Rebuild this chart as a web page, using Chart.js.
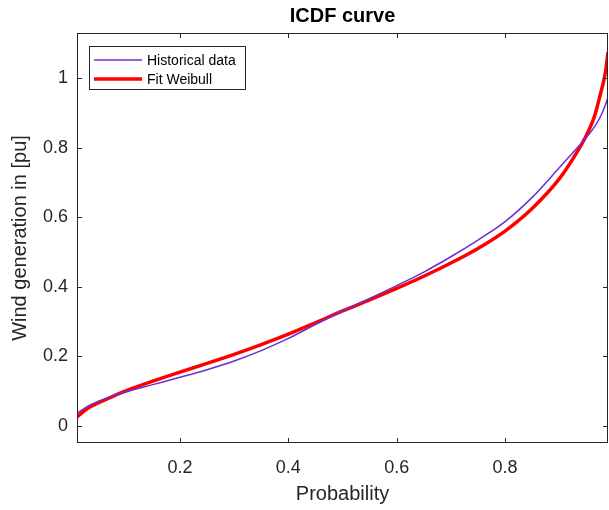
<!DOCTYPE html>
<html lang="en">
<head>
    <meta charset="UTF-8">
    <title>ICDF curve</title>
    <script src="https://cdn.jsdelivr.net/npm/chart.js"></script>
    <style>
        html, body { margin: 0; padding: 0; background: #ffffff; }
        .chart-container { width: 609px; height: 510px; position: relative; }
    </style>
</head>
<body>

<div class="chart-container">
    <canvas id="icdfChart"></canvas>
</div>

<script>
    // Probability levels
    const probability = [0.01, 0.03, 0.05, 0.07, 0.1, 0.15, 0.2, 0.25, 0.3, 0.35, 0.4, 0.45, 0.5, 0.55,
                         0.6, 0.65, 0.7, 0.75, 0.8, 0.85, 0.9, 0.93, 0.95, 0.965, 0.975, 0.985, 0.99];
    // Historical data (purple)
    const historical = [0.035, 0.056, 0.07, 0.082, 0.097, 0.118, 0.139, 0.161, 0.186, 0.216, 0.251, 0.291, 0.33, 0.366,
                        0.403, 0.442, 0.486, 0.534, 0.587, 0.657, 0.742, 0.794, 0.829, 0.86, 0.886, 0.922, 0.945];
    // Fit Weibull (red)
    const weibull = [0.025, 0.05, 0.066, 0.08, 0.1, 0.128, 0.154, 0.179, 0.205, 0.233, 0.263, 0.296, 0.33, 0.362,
                     0.395, 0.43, 0.468, 0.51, 0.56, 0.625, 0.71, 0.78, 0.835, 0.89, 0.948, 1.015, 1.075];

    const xTicks = [0.2, 0.4, 0.6, 0.8];
    const yTicks = [0, 0.2, 0.4, 0.6, 0.8, 1];

    const FONT = "'Liberation Sans', Arial, Helvetica, sans-serif";
    const AXIS_COLOR = '#262626';

    // Рамка, внутренние засечки, заголовок и легенда в стиле MATLAB
    const matlabStyle = {
        id: 'matlabStyle',
        afterDraw(chart) {
            const ctx = chart.ctx;
            const a = chart.chartArea;
            const xs = chart.scales.x;
            const ys = chart.scales.y;
            ctx.save();
            ctx.strokeStyle = AXIS_COLOR;
            ctx.lineWidth = 1;
            ctx.strokeRect(a.left + 0.5, a.top + 0.5, a.right - a.left - 1, a.bottom - a.top - 1);

            const tl = 5;
            ctx.beginPath();
            xTicks.forEach(v => {
                const px = Math.round(xs.getPixelForValue(v)) + 0.5;
                ctx.moveTo(px, a.bottom); ctx.lineTo(px, a.bottom - tl);
                ctx.moveTo(px, a.top); ctx.lineTo(px, a.top + tl);
            });
            yTicks.forEach(v => {
                const py = Math.round(ys.getPixelForValue(v)) + 0.5;
                ctx.moveTo(a.left, py); ctx.lineTo(a.left + tl, py);
                ctx.moveTo(a.right, py); ctx.lineTo(a.right - tl, py);
            });
            ctx.stroke();

            // заголовок
            ctx.fillStyle = '#000000';
            ctx.font = 'bold 20px ' + FONT;
            ctx.textAlign = 'center';
            ctx.textBaseline = 'middle';
            ctx.fillText('ICDF curve', (a.left + a.right) / 2, 16);

            // легенда
            const lx = a.left + 12, ly = a.top + 13, lw = 156, lh = 43;
            ctx.fillStyle = '#ffffff';
            ctx.fillRect(lx, ly, lw, lh);
            ctx.strokeStyle = '#262626';
            ctx.lineWidth = 1;
            ctx.strokeRect(lx + 0.5, ly + 0.5, lw, lh);
            chart.data.datasets.forEach((ds, i) => {
                const rowY = ly + 14 + i * 19;
                ctx.strokeStyle = ds.borderColor;
                ctx.lineWidth = ds.borderWidth;
                ctx.beginPath();
                ctx.moveTo(lx + 5, rowY);
                ctx.lineTo(lx + 53, rowY);
                ctx.stroke();
                ctx.fillStyle = '#000000';
                ctx.font = '14px ' + FONT;
                ctx.textAlign = 'left';
                ctx.textBaseline = 'middle';
                ctx.fillText(ds.label, lx + 58, rowY + 1);
            });
            ctx.restore();
        }
    };

    const config = {
        type: 'line',
        data: {
            datasets: [{
                label: 'Historical data',
                data: probability.map((p, i) => ({ x: p, y: historical[i] })),
                borderColor: '#6A2ED2',
                borderWidth: 1.5,
                pointRadius: 0,
                cubicInterpolationMode: 'monotone',
                fill: false
            }, {
                label: 'Fit Weibull',
                data: probability.map((p, i) => ({ x: p, y: weibull[i] })),
                borderColor: '#FF0000',
                borderWidth: 3.5,
                pointRadius: 0,
                cubicInterpolationMode: 'monotone',
                fill: false
            }]
        },
        options: {
            responsive: false,
            animation: false,
            maintainAspectRatio: false,
            layout: { padding: { top: 33, right: 1, left: 0, bottom: 0 } },
            plugins: {
                legend: { display: false },
                title: { display: false },
                tooltip: { enabled: false }
            },
            scales: {
                x: {
                    type: 'linear',
                    min: 0.01,
                    max: 0.99,
                    afterBuildTicks: s => { s.ticks = xTicks.map(v => ({ value: v })); },
                    afterFit: s => { s.height = 67; },
                    grid: { display: false, drawTicks: false },
                    border: { display: false },
                    ticks: {
                        color: AXIS_COLOR,
                        padding: 14,
                        maxRotation: 0,
                        font: { family: FONT, size: 18 },
                        callback: v => String(v)
                    },
                    title: {
                        display: true,
                        text: 'Probability',
                        color: AXIS_COLOR,
                        padding: { top: 0, bottom: 4 },
                        font: { family: FONT, size: 20 }
                    }
                },
                y: {
                    min: -0.05,
                    max: 1.13,
                    afterBuildTicks: s => { s.ticks = yTicks.map(v => ({ value: v })); },
                    afterFit: s => { s.width = 77; },
                    grid: { display: false, drawTicks: false },
                    border: { display: false },
                    ticks: {
                        color: AXIS_COLOR,
                        padding: 9,
                        font: { family: FONT, size: 18 },
                        callback: v => String(v)
                    },
                    title: {
                        display: true,
                        text: 'Wind generation in [pu]',
                        color: AXIS_COLOR,
                        padding: { top: 8, bottom: 0 },
                        font: { family: FONT, size: 20 }
                    }
                }
            }
        },
        plugins: [matlabStyle]
    };

    const canvas = document.getElementById('icdfChart');
    canvas.width = 609;
    canvas.height = 510;
    const icdfChart = new Chart(canvas, config);
</script>

</body>
</html>
